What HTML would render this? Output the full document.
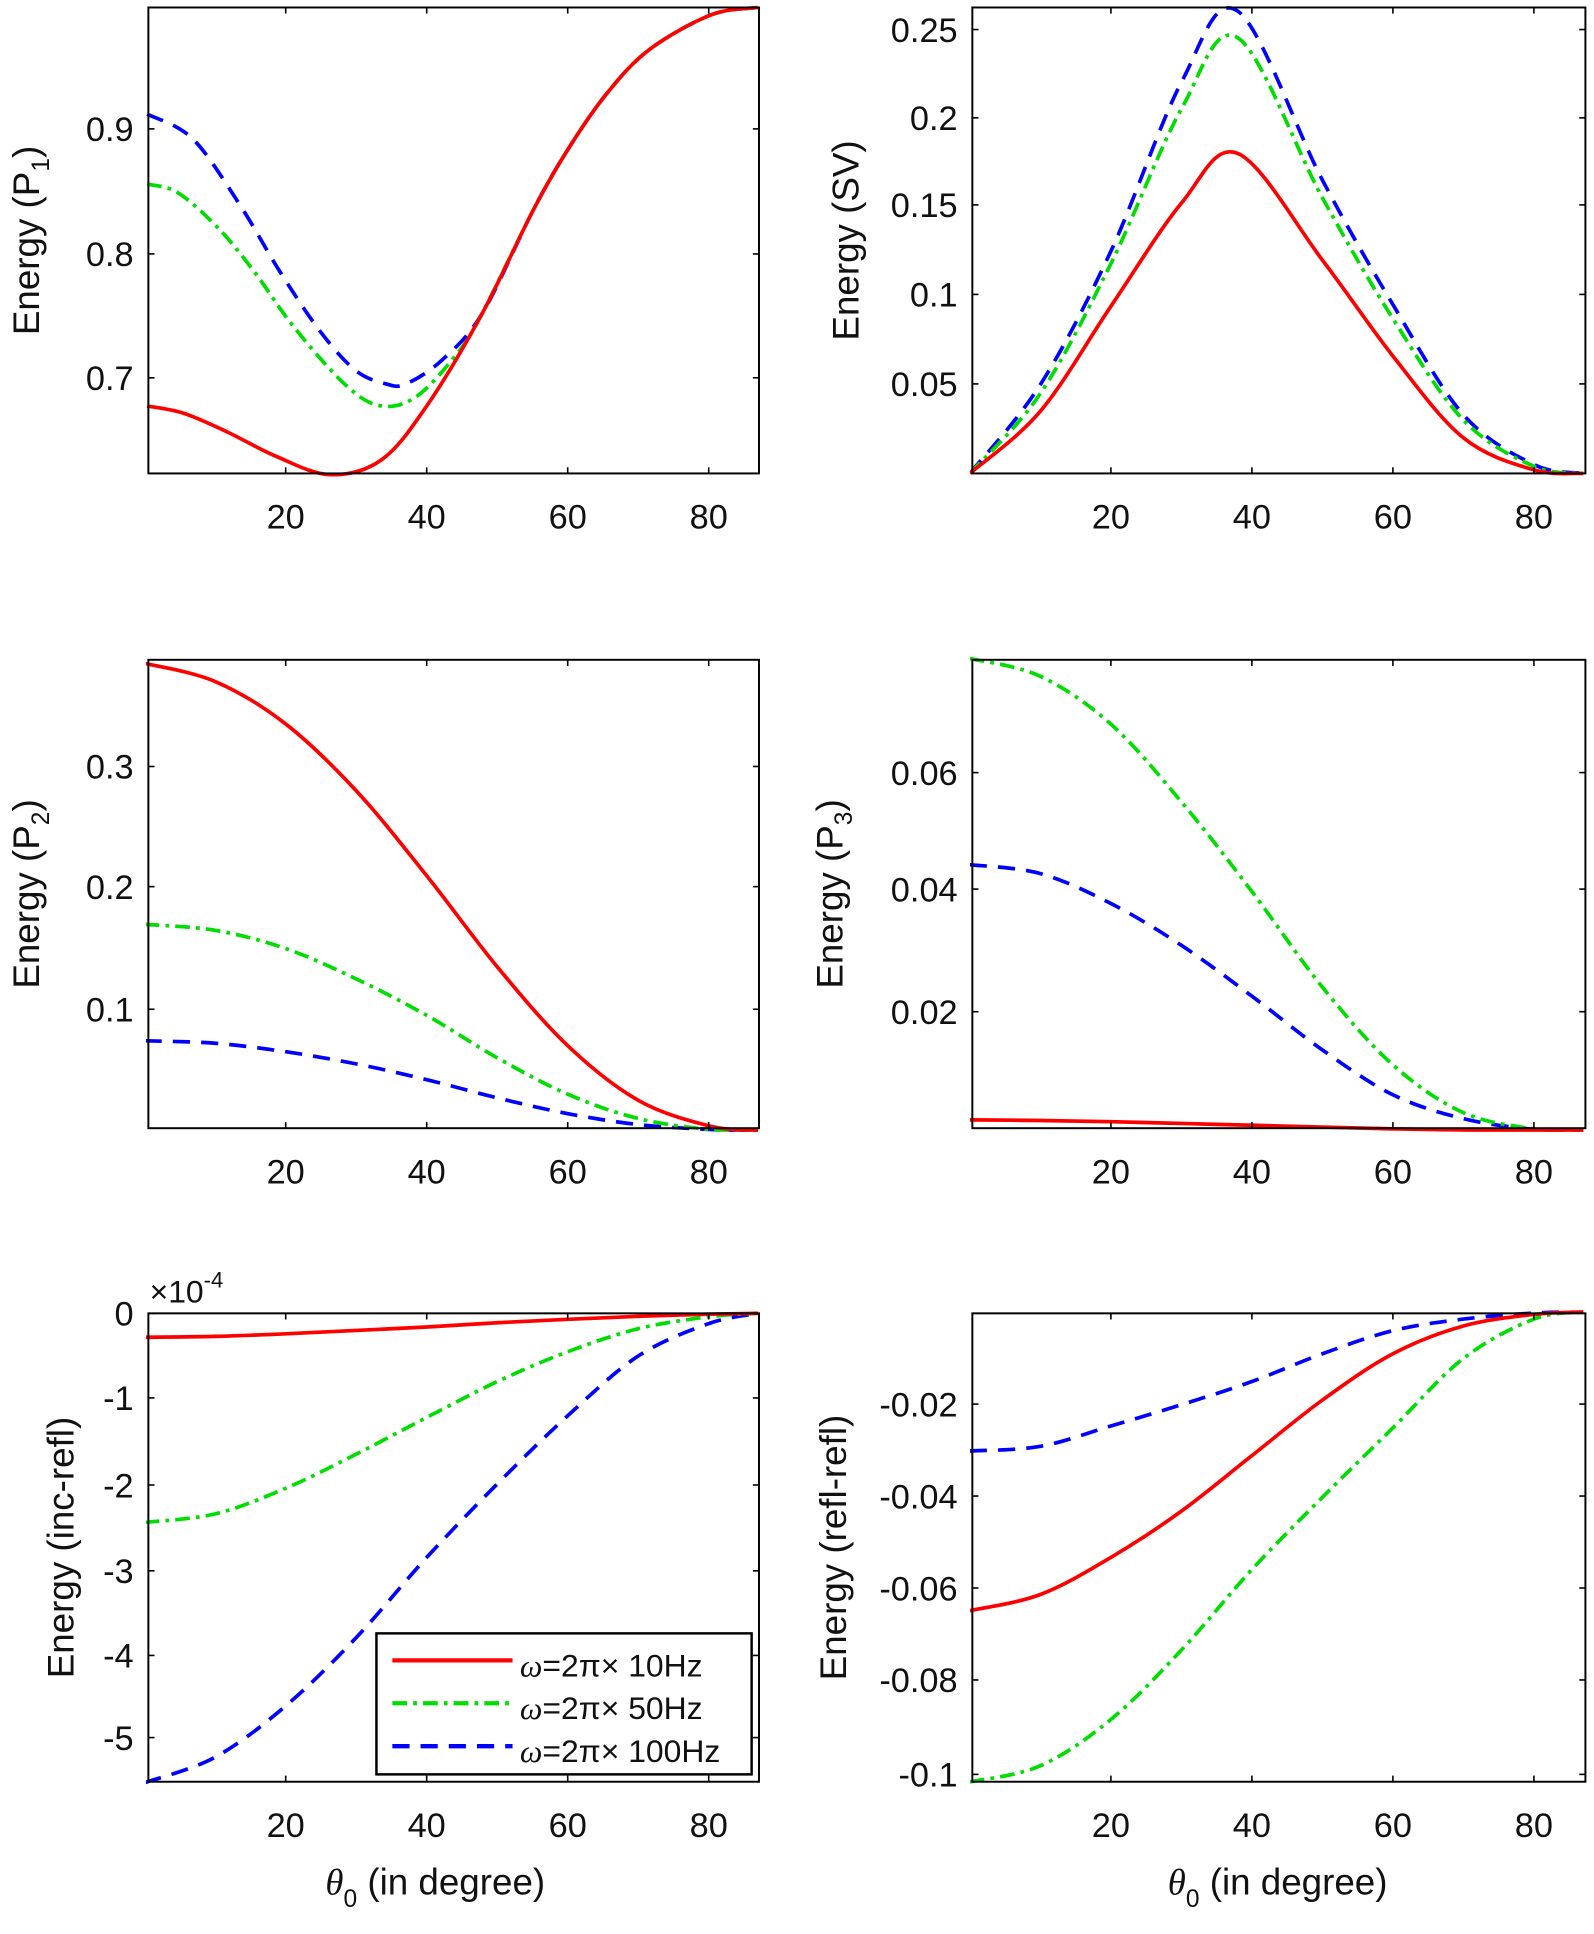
<!DOCTYPE html>
<html><head><meta charset="utf-8"><style>
html,body{margin:0;padding:0;background:#fff;}
svg text{font-family:"Liberation Sans",sans-serif;fill:#111;}
</style></head><body>
<svg id="s" width="1594" height="1929" viewBox="0 0 1300 1573" xmlns="http://www.w3.org/2000/svg">
<g id="g"></g>
<text x="0" y="0" font-size="30" text-anchor="middle" transform="translate(32,196) rotate(-90)">Energy (P<tspan font-size="20" dy="8">1</tspan><tspan dy="-8">)</tspan></text>
<text x="0" y="0" font-size="30" text-anchor="middle" transform="translate(700,196) rotate(-90)">Energy (SV)</text>
<text x="0" y="0" font-size="30" text-anchor="middle" transform="translate(32,729) rotate(-90)">Energy (P<tspan font-size="20" dy="8">2</tspan><tspan dy="-8">)</tspan></text>
<text x="0" y="0" font-size="30" text-anchor="middle" transform="translate(687,729) rotate(-90)">Energy (P<tspan font-size="20" dy="8">3</tspan><tspan dy="-8">)</tspan></text>
<text x="0" y="0" font-size="30" text-anchor="middle" transform="translate(60,1262) rotate(-90)">Energy (inc-refl)</text>
<text x="0" y="0" font-size="30" text-anchor="middle" transform="translate(690,1262) rotate(-90)">Energy (refl-refl)</text>
<text x="122" y="1062" font-size="26">×10<tspan font-size="18" dy="-12">-4</tspan></text>
<text x="355" y="1545" font-size="30" text-anchor="middle"><tspan font-family="Liberation Serif" font-style="italic">θ</tspan><tspan font-size="20" dy="10">0</tspan><tspan dy="-10"> (in degree)</tspan></text>
<text x="1042" y="1545" font-size="30" text-anchor="middle"><tspan font-family="Liberation Serif" font-style="italic">θ</tspan><tspan font-size="20" dy="10">0</tspan><tspan dy="-10"> (in degree)</tspan></text>
<rect x="307" y="1332" width="306" height="115" fill="#fff" stroke="#000" stroke-width="2"/>
<line x1="320" y1="1354" x2="418" y2="1354" stroke="#f00" stroke-width="3.5"/>
<line x1="320" y1="1389" x2="418" y2="1389" stroke="#0d0" stroke-width="3.5" stroke-dasharray="12,5,3,5"/>
<line x1="320" y1="1424" x2="418" y2="1424" stroke="#00f" stroke-width="3.5" stroke-dasharray="14,9"/>
<text x="424" y="1367" font-size="26"><tspan font-family="Liberation Serif" font-style="italic">ω</tspan>=2π× 10Hz</text>
<text x="424" y="1402" font-size="26"><tspan font-family="Liberation Serif" font-style="italic">ω</tspan>=2π× 50Hz</text>
<text x="424" y="1437" font-size="26"><tspan font-family="Liberation Serif" font-style="italic">ω</tspan>=2π× 100Hz</text>
</svg>
<script>
var g=document.getElementById('g');var NS='http://www.w3.org/2000/svg';
function el(t,a,txt){var e=document.createElementNS(NS,t);for(var k in a)e.setAttribute(k,a[k]);if(txt!=null)e.textContent=txt;g.appendChild(e);return e;}
function cr(p){var d='M'+p[0][0]+','+p[0][1];for(var i=0;i<p.length-1;i++){var p0=p[i-1]||p[i],p1=p[i],p2=p[i+1],p3=p[i+2]||p2;
d+=' C'+(p1[0]+(p2[0]-p0[0])/6)+','+(p1[1]+(p2[1]-p0[1])/6)+' '+(p2[0]-(p3[0]-p1[0])/6)+','+(p2[1]-(p3[1]-p1[1])/6)+' '+p2[0]+','+p2[1];}return d;}
var sty={r:{stroke:'#f00'},g:{stroke:'#0d0','stroke-dasharray':'12,5,3,5'},b:{stroke:'#00f','stroke-dasharray':'14,9'}};
function panel(x0,x1,y0,y1,xo,yt,ylab,series,clipId){
 var cp=document.createElementNS(NS,'clipPath');cp.setAttribute('id',clipId);var r=document.createElementNS(NS,'rect');
 r.setAttribute('x',x0-2);r.setAttribute('y',y0-3);r.setAttribute('width',x1-x0+4);r.setAttribute('height',y1-y0+6);cp.appendChild(r);g.appendChild(cp);
 ['b','g','r'].forEach(function(k){if(!series[k])return;var a={d:cr(series[k]),fill:'none','stroke-width':3,'clip-path':'url(#'+clipId+')'};for(var q in sty[k])a[q]=sty[k][q];el('path',a);});
 el('rect',{x:x0,y:y0,width:x1-x0,height:y1-y0,fill:'none',stroke:'#000','stroke-width':1.6});
 [20,40,60,80].forEach(function(d){var x=xo+5.75*d;el('line',{x1:x,y1:y1,x2:x,y2:y1-5,stroke:'#000','stroke-width':1.3});el('line',{x1:x,y1:y0,x2:x,y2:y0+5,stroke:'#000','stroke-width':1.3});
 el('text',{x:x,y:y1+45,'font-size':28,'text-anchor':'middle'},String(d));});
 yt.forEach(function(t){el('line',{x1:x0,y1:t[0],x2:x0+5,y2:t[0],stroke:'#000','stroke-width':1.3});el('line',{x1:x1,y1:t[0],x2:x1-5,y2:t[0],stroke:'#000','stroke-width':1.3});
 el('text',{x:x0-12,y:t[0]+10,'font-size':28,'text-anchor':'end'},t[1]);});
}
function mk(xo,f,vals){var ds=[0,10,20,30,38,50,60,70,80,87];return vals.map(function(v,i){return [xo+5.75*ds[i],f(v)];});}
function mk2(xo,f,vals){var ds=[0,10,20,30,40,50,60,70,80,87];return vals.map(function(v,i){return [xo+5.75*ds[i],f(v)];});}
var sh=[[435,171],[463,122],[495,76],[530,40],[580,12],[618,6]];
panel(121,619,6,386,118,[[105,'0.9'],[207,'0.8'],[308,'0.7']],'',{
 r:[[120,331],[150,337],[185,352],[225,372],[269,387],[311,375],[348,331],[393,256]].concat(sh),
 g:[[120,150],[145,157],[178,186],[207,221],[240,267],[282,314],[311,331],[340,323],[373,288],[393,256]].concat(sh),
 b:[[120,93],[157,113],[195,166],[228,221],[261,270],[290,302],[315,313],[331,313],[360,294],[393,256]].concat(sh)},'c1');
var fTR=function(v){return 386-1450*v;};
panel(793,1293,6,386,791,[[24,'0.25'],[96,'0.2'],[167,'0.15'],[240,'0.1'],[313,'0.05']],'',{
 r:mk(791,fTR,[0,0.035,0.094,0.152,0.18,0.12,0.066,0.02,0.002,0]),
 g:mk(791,fTR,[0,0.045,0.118,0.205,0.245,0.155,0.087,0.03,0.004,0]),
 b:mk(791,fTR,[0,0.05,0.125,0.22,0.26,0.165,0.095,0.033,0.005,0])},'c2');
var fML=function(v){return 922-990*v;};
panel(121,619,538,920,118,[[625,'0.3'],[723,'0.2'],[823,'0.1']],'',{
 r:mk2(118,fML,[0.385,0.37,0.335,0.28,0.21,0.135,0.07,0.025,0.004,0]),
 g:mk2(118,fML,[0.17,0.165,0.15,0.125,0.095,0.06,0.03,0.01,0.001,0]),
 b:mk2(118,fML,[0.074,0.072,0.065,0.055,0.042,0.027,0.014,0.005,0.001,0])},'c3');
var fMR=function(v){return 922-4875*v;};
panel(793,1293,538,920,791,[[630,'0.06'],[725,'0.04'],[825,'0.02']],'',{
 r:mk2(791,fMR,[0.0018,0.0017,0.0015,0.0012,0.0009,0.0006,0.0003,0.0001,0,0]),
 g:mk2(791,fMR,[0.079,0.076,0.068,0.055,0.04,0.024,0.011,0.003,0.0003,0]),
 b:mk2(791,fMR,[0.0445,0.043,0.038,0.031,0.0225,0.0135,0.006,0.002,0.0002,0])},'c4');
var fBL=function(v){return 1071-69.6*v;};
panel(121,619,1071,1453,118,[[1071,'0'],[1140,'-1'],[1211,'-2'],[1281,'-3'],[1350,'-4'],[1417,'-5']],'',{
 r:mk2(118,fBL,[-0.28,-0.27,-0.24,-0.2,-0.16,-0.11,-0.07,-0.035,-0.01,0]),
 g:mk2(118,fBL,[-2.45,-2.35,-2.05,-1.65,-1.22,-0.8,-0.45,-0.18,-0.04,0]),
 b:mk2(118,fBL,[-5.5,-5.2,-4.6,-3.8,-2.86,-2.0,-1.2,-0.5,-0.12,0])},'c5');
var fBR=function(v){return 1070-3775*v;};
panel(793,1293,1071,1453,791,[[1145,'-0.02'],[1220,'-0.04'],[1295,'-0.06'],[1370,'-0.08'],[1447,'-0.1']],'',{
 r:mk2(791,fBR,[-0.0645,-0.061,-0.053,-0.043,-0.031,-0.019,-0.009,-0.003,-0.0005,0]),
 g:mk2(791,fBR,[-0.1015,-0.098,-0.088,-0.073,-0.0556,-0.04,-0.025,-0.01,-0.0015,0]),
 b:mk2(791,fBR,[-0.03,-0.029,-0.0246,-0.02,-0.015,-0.009,-0.004,-0.0015,-0.0002,0])},'c6');
</script>
</body></html>
